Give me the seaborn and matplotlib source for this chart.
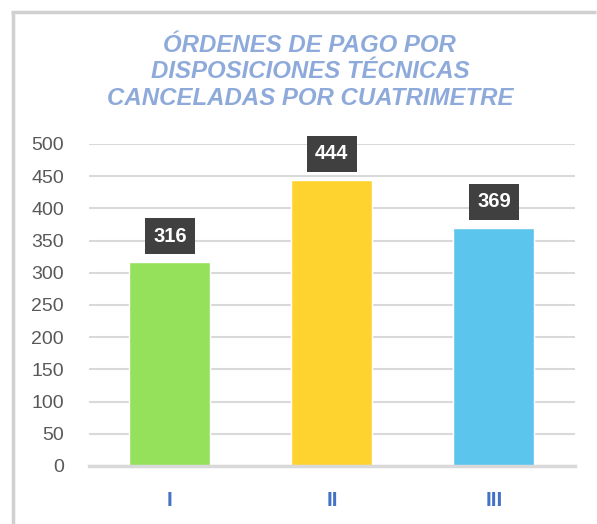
import matplotlib
matplotlib.use("Agg")
import matplotlib.pyplot as plt
import seaborn as sns
import pandas as pd

# Datos del gráfico
cuatrimestres = ["I", "II", "III"]
ordenes = [316, 444, 369]
colores = ["#95e15b", "#ffd32f", "#5bc5ed"]

df = pd.DataFrame({"Cuatrimestre": cuatrimestres, "Ordenes": ordenes})

sns.set_style("white")
plt.rcParams['font.family'] = ['Liberation Sans', 'DejaVu Sans']

fig = plt.figure(figsize=(5.97, 5.24), dpi=100)
ax = fig.add_axes([0.149, 0.1107, 0.814, 0.6145])

sns.barplot(data=df, x="Cuatrimestre", y="Ordenes", hue="Cuatrimestre",
            palette=colores, width=0.5, legend=False, ax=ax, saturation=1)

ax.set_ylim(0, 500)
ax.set_xlim(-0.5, 2.5)
ax.set_yticks(range(0, 501, 50))
ax.yaxis.grid(True, color="#d9d9d9", linewidth=1.5)
ax.set_axisbelow(True)
for s in ["top", "right", "left"]:
    ax.spines[s].set_visible(False)
ax.spines["bottom"].set_color("#d9d9d9")
ax.spines["bottom"].set_linewidth(2.5)
ax.set_xlabel("")
ax.set_ylabel("")
ax.tick_params(axis="y", length=0, pad=18, labelsize=14, labelcolor="#595959")
ax.tick_params(axis="x", length=0, pad=18, labelsize=15, labelcolor="#4472c4")
for lbl in ax.get_xticklabels():
    lbl.set_fontweight("bold")

# Etiquetas de datos
for i, v in enumerate(ordenes):
    ax.annotate(str(v), xy=(i, v), xytext=(0, 19), textcoords="offset points",
                ha="center", va="center", color="white", fontsize=14.5,
                fontweight="bold",
                bbox=dict(boxstyle="square,pad=0.42", fc="#404040", ec="none"))

# Título
fig.text(0.519, 0.863, "ÓRDENES DE PAGO POR\nDISPOSICIONES TÉCNICAS\nCANCELADAS POR CUATRIMETRE",
         ha="center", va="center", color="#8eaadb", fontsize=17.3,
         fontweight="bold", fontstyle="italic", linespacing=1.2)

# Borde del gráfico (lados superior e izquierdo)
fig.add_artist(plt.Line2D([0.021, 0.021], [0, 0.978], color="#d0d0d0", linewidth=2.5,
                          solid_capstyle="butt", zorder=10))
fig.add_artist(plt.Line2D([0.019, 0.999], [0.978, 0.978], color="#d0d0d0", linewidth=2.5,
                          solid_capstyle="butt", zorder=10))

fig.savefig("out.png", dpi=100)
